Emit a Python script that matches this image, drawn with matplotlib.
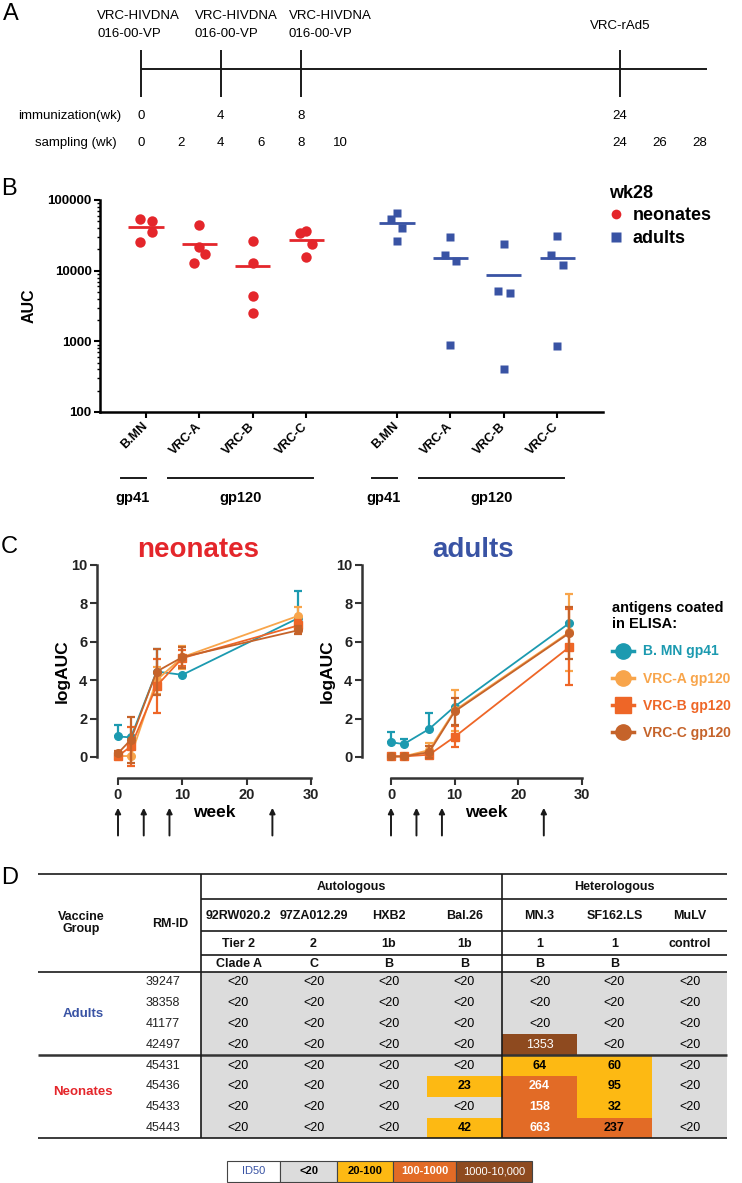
import numpy as np
import matplotlib
matplotlib.use('Agg')
import matplotlib.pyplot as plt
from matplotlib.lines import Line2D
from matplotlib.patches import Rectangle
from matplotlib.ticker import LogLocator, NullFormatter, FixedLocator

plt.rcParams['font.family'] = ['Liberation Sans', 'DejaVu Sans']

W, H = 742, 1183

# ---- data ------------------------------------------------------------------
# panel A: schedule (weeks)
immun_weeks = [0, 4, 8, 24]
immun_names = ['VRC-HIVDNA\n016-00-VP', 'VRC-HIVDNA\n016-00-VP', 'VRC-HIVDNA\n016-00-VP', 'VRC-rAd5']
sampling_weeks = [0, 2, 4, 6, 8, 10, 24, 26, 28]

# panel B: AUC at wk28
antigens_b = ['B.MN', 'VRC-A', 'VRC-B', 'VRC-C']
auc_neonates = [[54400, 49900, 35200, 25100],
                [43700, 21600, 17400, 12700],
                [26200, 12800, 4360, 2530],
                [34400, 36400, 23500, 15700]]
auc_adults = [[66200, 54400, 40500, 26200],
              [29900, 16600, 13500, 891],
              [23800, 5130, 4860, 412],
              [30600, 16600, 12100, 863]]

# panel C: logAUC over time (mean, sd)
weeks_c = [0, 2, 6, 10, 28]
series_c = ['B. MN gp41', 'VRC-A gp120', 'VRC-B gp120', 'VRC-C gp120']
neo_mean = [[1.07, 1.02, 4.45, 4.28, 7.23],
            [0.05, 0.05, 4.00, 5.20, 7.35],
            [0.05, 0.55, 3.70, 5.15, 6.85],
            [0.20, 0.90, 4.45, 5.20, 6.60]]
neo_sd = [[0.60, 0.00, 1.15, 0.00, 1.44],
          [0.15, 0.00, 0.70, 0.60, 0.45],
          [0.15, 1.00, 1.40, 0.40, 0.30],
          [0.10, 1.20, 1.20, 0.55, 0.20]]
ad_mean = [[0.77, 0.67, 1.46, 2.63, 6.97],
           [0.03, 0.03, 0.36, 2.43, 6.50],
           [0.03, 0.03, 0.12, 1.05, 5.72],
           [0.03, 0.03, 0.25, 2.37, 6.45]]
ad_sd = [[0.53, 0.28, 0.85, 0.00, 0.00],
         [0.00, 0.00, 0.38, 1.05, 2.00],
         [0.00, 0.00, 0.15, 0.55, 1.98],
         [0.00, 0.00, 0.30, 0.70, 1.35]]

# panel D: neutralization ID50
strains = ['92RW020.2', '97ZA012.29', 'HXB2', 'Bal.26', 'MN.3', 'SF162.LS', 'MuLV']
tiers = ['Tier 2', '2', '1b', '1b', '1', '1', 'control']
clades = ['Clade A', 'C', 'B', 'B', 'B', 'B', '']
adult_ids = ['39247', '38358', '41177', '42497']
neonate_ids = ['45431', '45436', '45433', '45443']
adult_id50 = [['<20'] * 7,
              ['<20'] * 7,
              ['<20'] * 7,
              ['<20', '<20', '<20', '<20', '1353', '<20', '<20']]
neonate_id50 = [['<20', '<20', '<20', '<20', '64', '60', '<20'],
                ['<20', '<20', '<20', '23', '264', '95', '<20'],
                ['<20', '<20', '<20', '<20', '158', '32', '<20'],
                ['<20', '<20', '<20', '42', '663', '237', '<20']]
bin_labels = ['ID50', '<20', '20-100', '100-1000', '1000-10,000']

# ---- styles ----------------------------------------------------------------
RED = '#E4262B'
BLUE = '#3953A4'
c_colors = ['#1C9AB0', '#F8A54B', '#EE6627', '#C5632A']
c_markers = ['o', 'o', 's', 'o']
bin_colors = ['white', '#DCDCDC', '#FDB913', '#E26B26', '#8E4A1F']
bin_text = [(BLUE, 'normal'), ('black', 'bold'), ('black', 'bold'), ('white', 'bold'), ('white', 'normal')]
DARK = '#1a1a1a'

fig = plt.figure(figsize=(W / 100, H / 100), dpi=100)


def px_axes(x0, y0, x1, y1):
    return fig.add_axes([x0 / W, 1 - y1 / H, (x1 - x0) / W, (y1 - y0) / H])


ov = px_axes(0, 0, W, H)
ov.set_xlim(0, W)
ov.set_ylim(H, 0)
ov.axis('off')

for letter, (lx, ly) in zip('ABCD', [(11, 14), (9, 189), (9, 547), (10, 878)]):
    ov.text(lx, ly, letter, fontsize=17, ha='center', va='center')

# ---- panel A ---------------------------------------------------------------
pxw = 19.96
axA = px_axes(0, 0, W, 160)
axA.set_xlim(-141 / pxw, (W - 141) / pxw)
axA.set_ylim(160, 0)
axA.axis('off')
axA.hlines(69, 0, sampling_weeks[-1] + 0.35, color=DARK, lw=1.4)
axA.vlines(immun_weeks, 50, 97, color=DARK, lw=1.4)
name_x = [-2.2, 2.7, 7.4]
for i, (w, name) in enumerate(zip(immun_weeks, immun_names)):
    lines = name.split('\n')
    if len(lines) == 2:
        axA.text(name_x[i], 16, lines[0], fontsize=9.5, ha='left', va='center')
        axA.text(name_x[i], 34, lines[1], fontsize=9.5, ha='left', va='center')
    else:
        axA.text(w, 26, name, fontsize=9.5, ha='center', va='center')
    axA.text(w, 116, str(w), fontsize=9.5, ha='center', va='center')
for w in sampling_weeks:
    axA.text(w, 143, str(w), fontsize=9.5, ha='center', va='center')
axA.text(-1.0, 116, 'immunization(wk)', fontsize=9.5, ha='right', va='center')
axA.text(-1.2, 143, 'sampling (wk)', fontsize=9.5, ha='right', va='center')

# ---- panel B ---------------------------------------------------------------
axB = px_axes(100, 200, 603, 412)
pos_neo = np.arange(4)
pos_ad = np.arange(4) + 4.7
jit_neo = [[-0.11, 0.11, 0.11, -0.11], [0, 0, 0.1, -0.11], [0, 0, 0, 0], [-0.11, 0, 0.11, 0]]
jit_ad = [[0, -0.12, 0.1, 0], [0, -0.11, 0.11, 0], [0, -0.11, 0.11, 0], [0, -0.11, 0.11, 0]]
for pos, vals, jit, col, mk, ms in [(pos_neo, auc_neonates, jit_neo, RED, 'o', 7.5),
                                    (pos_ad, auc_adults, jit_ad, BLUE, 's', 6)]:
    for p, v, j in zip(pos, vals, jit):
        axB.plot(p + np.array(j), v, ls='none', marker=mk, ms=ms, color=col, mec='none', clip_on=False)
        axB.hlines(np.mean(v), p - 0.33, p + 0.33, color=col, lw=2)
axB.set_yscale('log')
axB.set_ylim(100, 100000)
axB.set_xlim(-46 / 53.4, 457 / 53.4)
for s in ['top', 'right']:
    axB.spines[s].set_visible(False)
for s in ['left', 'bottom']:
    axB.spines[s].set_linewidth(1.8)
axB.yaxis.set_major_locator(FixedLocator([100, 1000, 10000, 100000]))
axB.set_yticklabels(['100', '1000', '10000', '100000'])
axB.yaxis.set_minor_locator(LogLocator(base=10, subs=np.arange(2, 10)))
axB.yaxis.set_minor_formatter(NullFormatter())
axB.tick_params(axis='y', which='major', length=4, width=1.5, labelsize=9.5, pad=2)
axB.tick_params(axis='y', which='minor', length=2, width=1)
axB.set_xticks(list(pos_neo) + list(pos_ad))
axB.set_xticklabels(antigens_b * 2, rotation=45, ha='right', va='center', rotation_mode='anchor')
axB.tick_params(axis='x', length=4, width=1.5, labelsize=9, pad=5)
for lbl in axB.get_xticklabels() + axB.get_yticklabels():
    lbl.set_fontweight('bold')
axB.set_ylabel('AUC', fontsize=11.5, fontweight='bold', labelpad=8)
tr = axB.get_xaxis_transform()
for pos in [pos_neo, pos_ad]:
    axB.plot([pos[0] - 0.47, pos[0]], [-0.311, -0.311], color=DARK, lw=1.4, transform=tr, clip_on=False)
    axB.plot([pos[1] - 0.59, pos[3] + 0.13], [-0.311, -0.311], color=DARK, lw=1.4, transform=tr, clip_on=False)
    axB.text(pos[0] - 0.26, -0.405, 'gp41', transform=tr, ha='center', va='center', fontsize=10.5, fontweight='bold')
    axB.text((pos[1] + pos[3]) / 2 - 0.23, -0.405, 'gp120', transform=tr, ha='center', va='center',
             fontsize=10.5, fontweight='bold')
hB = [Line2D([], [], ls='none', marker='o', ms=7, color=RED, mec='none', label='neonates'),
      Line2D([], [], ls='none', marker='s', ms=6.5, color=BLUE, mec='none', label='adults')]
legB = fig.legend(handles=hB, title='wk28', loc='upper left', bbox_to_anchor=(609 / W, 1 - 185 / H),
                  frameon=False, prop={'size': 13, 'weight': 'bold'}, handlelength=0.8,
                  handletextpad=0.5, labelspacing=0.3, borderpad=0, borderaxespad=0, alignment='left',
                  title_fontproperties={'size': 13, 'weight': 'bold'})

# ---- panel C ---------------------------------------------------------------
panels_c = [((97, 311), 118, 'neonates', RED, neo_mean, neo_sd, (198, 550)),
            ((362, 582), 391, 'adults', BLUE, ad_mean, ad_sd, (473, 550))]
for (x0, x1), x_zero, title, tcol, means, sds, tpos in panels_c:
    ax = px_axes(x0, 565, x1, 778)
    ppw = (x1 - x_zero) / 30
    ax.set_xlim((x0 - x_zero) / ppw, 30)
    ax.set_ylim(-21 / 19.2, 10)
    for k in range(4):
        m = np.array(means[k])
        sd = np.array(sds[k])
        yerr = [np.zeros_like(sd), sd] if k == 0 else [sd, sd]
        ax.errorbar(weeks_c, m, yerr=yerr, color=c_colors[k], marker=c_markers[k], ms=5.5,
                    lw=1.3, elinewidth=1.6, capsize=3, capthick=1.6, clip_on=False, zorder=3 + k)
    for s in ['top', 'right']:
        ax.spines[s].set_visible(False)
    for s in ['left', 'bottom']:
        ax.spines[s].set_linewidth(1.8)
        ax.spines[s].set_color('#333333')
    ax.spines['left'].set_bounds(0, 10)
    ax.spines['bottom'].set_bounds(0, 30)
    ax.set_yticks([0, 2, 4, 6, 8, 10])
    ax.set_xticks([0, 10, 20, 30])
    ax.tick_params(length=5, width=1.5, labelsize=10.5, pad=2, colors='#333333', labelcolor='#222222')
    for lbl in ax.get_xticklabels() + ax.get_yticklabels():
        lbl.set_fontweight('bold')
    ax.set_ylabel('logAUC', fontsize=12.5, fontweight='bold', labelpad=1)
    xt = ax.get_xaxis_transform()
    ax.text(15, -0.16, 'week', transform=xt, ha='center', va='center', fontsize=12.5, fontweight='bold')
    for w in immun_weeks:
        ax.annotate('', xy=(w, -0.14), xytext=(w, -0.27), xycoords=xt, textcoords=xt,
                    arrowprops=dict(arrowstyle='-|>', color=DARK, lw=1.4, mutation_scale=8,
                                    shrinkA=0, shrinkB=0), annotation_clip=False)
    ov.text(tpos[0], tpos[1], title, color=tcol, fontsize=20, fontweight='bold', ha='center', va='center')

hC = [Line2D([], [], color=c, marker=m, ms=11, lw=2.5, label=l)
      for c, m, l in zip(c_colors, c_markers, series_c)]
legC = fig.legend(handles=hC, title='antigens coated\nin ELISA:', loc='upper left',
                  bbox_to_anchor=(612 / W, 1 - 601 / H), frameon=False,
                  prop={'size': 10, 'weight': 'bold'}, handlelength=1.6, handletextpad=0.6,
                  labelspacing=0.95, borderpad=0, borderaxespad=0, alignment='left',
                  title_fontproperties={'size': 10.5, 'weight': 'bold'})
for t, c in zip(legC.get_texts(), c_colors):
    t.set_color(c)


# ---- panel D: table --------------------------------------------------------
def id50_bin(s):
    if s.startswith('<'):
        return 1
    v = float(s)
    if v < 100:
        return 2
    if v < 1000:
        return 3
    return 4


col_edges = [201, 276, 351, 427, 502, 577, 652, 727]
row_top = 972
row_h = 20.8
all_ids = adult_ids + neonate_ids
all_vals = adult_id50 + neonate_id50
for r, (rid, vals) in enumerate(zip(all_ids, all_vals)):
    yc = row_top + (r + 0.5) * row_h
    ov.text(163, yc, rid, fontsize=9, ha='center', va='center', color='#222222')
    for c, s in enumerate(vals):
        b = id50_bin(s)
        ov.add_patch(Rectangle((col_edges[c], row_top + r * row_h), col_edges[c + 1] - col_edges[c], row_h,
                               facecolor=bin_colors[b], edgecolor='none', zorder=1))
        tc, tw = bin_text[b]
        if b == 3 and strains[c] == 'SF162.LS':
            tc = 'black'
        if b == 1:
            tw = 'normal'
        ov.text((col_edges[c] + col_edges[c + 1]) / 2, yc, s, fontsize=9, ha='center', va='center',
                color=tc, fontweight=tw, zorder=3)

ov.text(83, 1014, 'Adults', color=BLUE, fontsize=9.5, fontweight='bold', ha='center', va='center')
ov.text(83, 1092, 'Neonates', color=RED, fontsize=9.5, fontweight='bold', ha='center', va='center')

hdr = dict(fontsize=9, fontweight='bold', ha='center', va='center', color='#111111')
ov.text(81, 923, 'Vaccine\nGroup', linespacing=1.0, **hdr)
ov.text(170, 924, 'RM-ID', **hdr)
ov.text((col_edges[0] + col_edges[4]) / 2, 887, 'Autologous', **hdr)
ov.text((col_edges[4] + col_edges[7]) / 2, 887, 'Heterologous', **hdr)
for c in range(7):
    xc = (col_edges[c] + col_edges[c + 1]) / 2
    ov.text(xc, 916, strains[c], **hdr)
    ov.text(xc, 944, tiers[c], **hdr)
    ov.text(xc, 964, clades[c], **hdr)

x_left, x_right = 38, 727
ov.hlines([874, 972, 1138], x_left, x_right, color=DARK, lw=1.2, zorder=4)
ov.hlines([1055], x_left, x_right, color='#333333', lw=1.8, zorder=4)
ov.hlines([899, 931, 955], col_edges[0], x_right, color=DARK, lw=1.2, zorder=4)
ov.vlines([col_edges[0], col_edges[4]], 874, 1138, color=DARK, lw=1.2, zorder=4)

# colour key
key_edges = [227, 280, 337, 393, 456, 532]
for i, lab in enumerate(bin_labels):
    ov.add_patch(Rectangle((key_edges[i], 1161), key_edges[i + 1] - key_edges[i], 21,
                           facecolor=bin_colors[i], edgecolor='#444444', lw=0.8))
    tc, tw = bin_text[i]
    ov.text((key_edges[i] + key_edges[i + 1]) / 2, 1171.5, lab, color=tc, fontweight=tw,
            fontsize=8, ha='center', va='center')

fig.savefig('out.png', dpi=100)
